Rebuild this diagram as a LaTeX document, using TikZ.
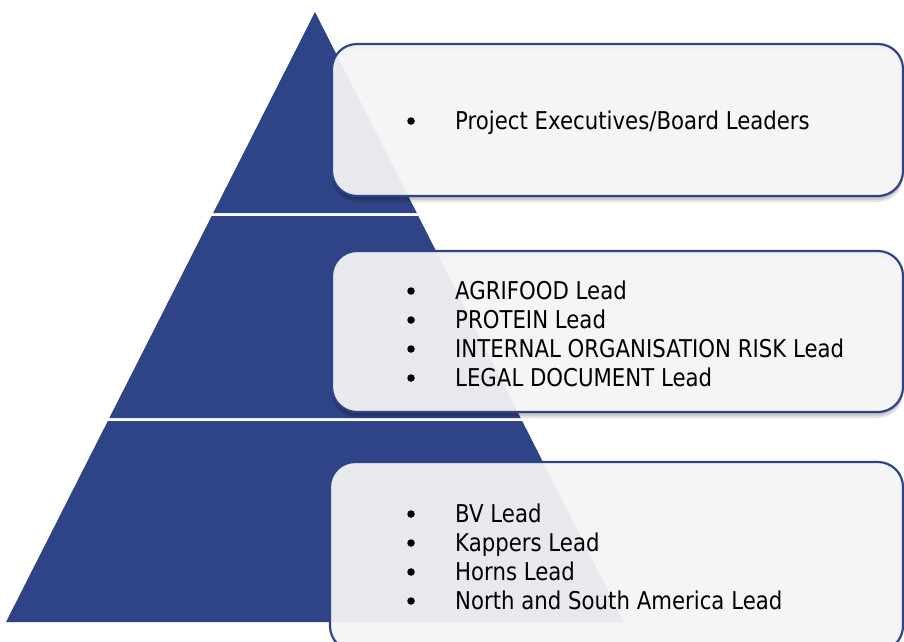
\documentclass[tikz,border=0pt]{standalone}
\usepackage{fontspec}
\newfontfamily\tf[FakeStretch=0.868]{DejaVu Sans}
\definecolor{pyr}{RGB}{46,68,134}
\definecolor{boxfill}{RGB}{244,244,244}
\begin{document}
\begin{tikzpicture}[x=1pt,y=-1pt,
 seg/.style={fill=pyr,draw=none},
 panel/.style={draw=pyr,line width=2.2pt,fill=boxfill,fill opacity=0.94,rounded corners=25pt},
 shade/.style={fill=black,opacity=0.1,even odd rule,rounded corners=25pt},
 item/.style={anchor=base west,inner sep=0pt,font=\tf\fontsize{24.5}{29}\selectfont,text=black},
 dot/.style={circle,fill=black,inner sep=0pt,minimum size=7.5pt}]
\useasboundingbox (0,0) rectangle (904,641);
\clip (0,0) rectangle (904,641);
% pyramid
\fill[seg] (315,12) -- (416.8,213) -- (213.2,213) -- cycle;
\fill[seg] (211.7,216) -- (418.3,216) -- (520.7,418) -- (109.3,418) -- cycle;
\fill[seg] (107.8,421) -- (522.2,421) -- (624,622) -- (6,622) -- cycle;
% shadows
\foreach \d in {2,4,6}{
 \fill[shade] (332,44+\d) rectangle (903,196+\d) (332,44) rectangle (903,196);
 \fill[shade] (332,251+\d) rectangle (903,412+\d) (332,251) rectangle (903,412);
}
% panels
\path[panel] (332,44) rectangle (903,196);
\path[panel] (332,251) rectangle (903,412);
\path[panel] (330,462) rectangle (903,651);
% texts
\node[item] (t1) at (455,129) {Project Executives/Board Leaders};
\node[dot] (d1) at (411,121) {};
\node[item] (t21) at (455,299) {AGRIFOOD Lead};
\node[item] (t22) at (455,328) {PROTEIN Lead};
\node[item] (t23) at (455,357) {INTERNAL ORGANISATION RISK Lead};
\node[item] (t24) at (455,386) {LEGAL DOCUMENT Lead};
\node[dot] (d21) at (411,291) {};
\node[dot] (d22) at (411,320) {};
\node[dot] (d23) at (411,349) {};
\node[dot] (d24) at (411,378) {};
\node[item] (t31) at (455,522) {BV Lead};
\node[item] (t32) at (455,551) {Kappers Lead};
\node[item] (t33) at (455,580) {Horns Lead};
\node[item] (t34) at (455,609) {North and South America Lead};
\node[dot] (d31) at (411,514) {};
\node[dot] (d32) at (411,543) {};
\node[dot] (d33) at (411,572) {};
\node[dot] (d34) at (411,601) {};
\end{tikzpicture}
\end{document}
